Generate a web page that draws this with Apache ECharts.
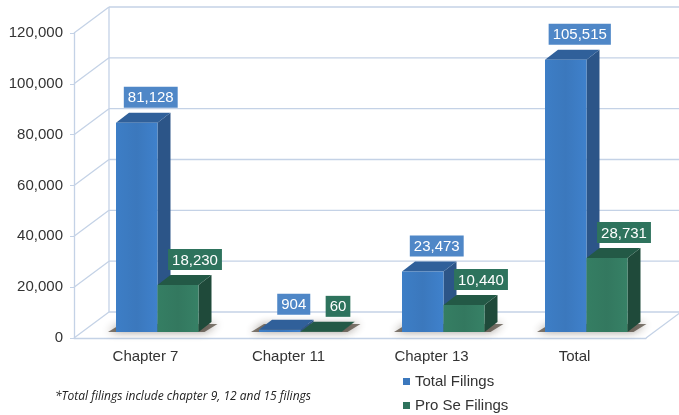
<!DOCTYPE html>
<html>
<head>
<meta charset="utf-8">
<script src="https://cdn.jsdelivr.net/npm/echarts@6/dist/echarts.min.js"></script>
<style>
  html, body { margin: 0; padding: 0; background: #fff; }
  #main { width: 679px; height: 415px; }
</style>
</head>
<body>
<div id="main"></div>
<script>
// chart data
var categories = ['Chapter 7', 'Chapter 11', 'Chapter 13', 'Total'];
var totalFilings = [81128, 904, 23473, 105515];
var proSeFilings = [18230, 60, 10440, 28731];
var yTicks = [0, 20000, 40000, 60000, 80000, 100000, 120000];
var seriesNames = ['Total Filings', 'Pro Se Filings'];

var myChart = echarts.init(document.getElementById('main'));

var lineColor = '#c4d2e6';
var DX = 35, DY = -26;      // depth of the back wall
var BX = 13, BY = -10;      // depth of a bar
var font = '"Liberation Sans", Arial, sans-serif';

function fmt(v) {
    return v.toString().replace(/\B(?=(\d{3})+(?!\d))/g, ',');
}

// colours: front, side, top, label
var looks = [
    {front: '#3b78bd', side: '#2c5588', top: '#30609a', label: '#4f87c7', x0: -29.5, x1: 12, lx: 14},
    {front: '#33785f', side: '#1f4a3a', top: '#235946', label: '#2e735d', x0: 12, x1: 53, lx: 17}
];

function barRender(k) {
    return function (params, api) {
        var lk = looks[k];
        var cat = api.value(0), val = api.value(1);
        var base = api.coord([cat, 0]);
        var top = api.coord([cat, val]);
        var by = base[1] - 6;
        var ty = by - (base[1] - top[1]) * 1.015;
        var xa = base[0] + lk.x0, xb = base[0] + lk.x1;
        var children = [];
        if (k === 0) {
            // shadow on the floor under the pair of bars
            children.push({
                type: 'polygon',
                shape: {points: [[xa - 8, by], [xb + 41 + 6, by], [xb + 41 + BX + 6, by + BY + 2], [xa + BX - 8, by + BY + 2]]},
                style: {fill: 'rgba(50,38,25,0.6)', shadowBlur: 8, shadowColor: 'rgba(50,38,25,0.8)'},
                silent: true
            });
        }
        children.push({
            type: 'polygon',
            shape: {points: [[xb, by], [xb + BX, by + BY], [xb + BX, ty + BY], [xb, ty]]},
            style: {fill: lk.side}
        });
        children.push({
            type: 'polygon',
            shape: {points: [[xa, ty], [xb, ty], [xb + BX, ty + BY], [xa + BX, ty + BY]]},
            style: {fill: lk.top}
        });
        children.push({
            type: 'rect',
            shape: {x: xa, y: ty, width: xb - xa, height: by - ty},
            style: {
                fill: new echarts.graphic.LinearGradient(0, 0, 1, 0, [
                    {offset: 0, color: echarts.color.lift(lk.front, -0.05)},
                    {offset: 0.5, color: lk.front},
                    {offset: 1, color: echarts.color.lift(lk.front, -0.08)}
                ])
            }
        });
        children.push({
            type: 'text',
            style: {
                text: fmt(val),
                x: (xa + xb) / 2 + lk.lx,
                y: ty + BY - 5,
                align: 'center',
                verticalAlign: 'bottom',
                fill: '#fff',
                font: '15px ' + font,
                backgroundColor: lk.label,
                padding: [4, 4, 2, 4]
            },
            z2: 10
        });
        return {type: 'group', children: children};
    };
}

function wallRender(params, api) {
    var v = api.value(1);
    var p = api.coord([0, v]);
    var cs = params.coordSys;
    var left = cs.x, right = cs.x + cs.width;
    var y = p[1];
    var st = {stroke: lineColor, lineWidth: 1.3};
    var children = [
        {type: 'line', shape: {x1: left, y1: y, x2: left + DX, y2: y + DY}, style: st},
        {type: 'line', shape: {x1: left + DX, y1: y + DY, x2: right + DX, y2: y + DY}, style: st}
    ];
    if (v === 0) {
        children.push({type: 'line', shape: {x1: right, y1: y, x2: right + DX, y2: y + DY}, style: st});
        var yt = api.coord([0, yTicks[yTicks.length - 1]])[1];
        children.push({type: 'line', shape: {x1: left + DX, y1: y + DY, x2: left + DX, y2: yt + DY}, style: st});
    }
    return {type: 'group', children: children, silent: true};
}

var legendBase = {
    left: 398,
    icon: 'rect',
    itemWidth: 7,
    itemHeight: 7,
    textStyle: {fontSize: 15, color: '#333', fontFamily: font}
};

var option = {
    animation: false,
    grid: {left: 74, right: 33, top: 33, bottom: 77},
    legend: [
        echarts.util.extend({data: [seriesNames[0]], top: 369}, legendBase),
        echarts.util.extend({data: [seriesNames[1]], top: 393}, legendBase)
    ],
    graphic: [{
        type: 'text',
        left: 55,
        top: 391,
        style: {
            text: '*Total filings include chapter 9, 12 and 15 filings',
            font: 'italic 12px "Open Sans", sans-serif',
            fill: '#222'
        }
    }],
    xAxis: {
        type: 'category',
        data: categories,
        axisLine: {lineStyle: {color: lineColor, width: 1.3}},
        axisTick: {length: 5, lineStyle: {color: lineColor}},
        axisLabel: {fontSize: 15, color: '#333', margin: 11, fontFamily: font},
        splitLine: {show: false}
    },
    yAxis: {
        type: 'value',
        min: 0,
        max: 120000,
        interval: 20000,
        axisLine: {show: true, lineStyle: {color: lineColor, width: 1.3}},
        axisTick: {show: true, length: 4, lineStyle: {color: lineColor}},
        axisLabel: {fontSize: 15, color: '#333', margin: 11, formatter: fmt, fontFamily: font},
        splitLine: {show: false}
    },
    series: [
        {
            name: 'wall',
            type: 'custom',
            renderItem: wallRender,
            data: yTicks.map(function (v) { return [0, v]; }),
            z: 1
        },
        {
            name: seriesNames[0],
            type: 'custom',
            renderItem: barRender(0),
            itemStyle: {color: '#3b78bd'},
            data: totalFilings.map(function (v, i) { return [i, v]; }),
            z: 3
        },
        {
            name: seriesNames[1],
            type: 'custom',
            renderItem: barRender(1),
            itemStyle: {color: '#2e735d'},
            data: proSeFilings.map(function (v, i) { return [i, v]; }),
            z: 4
        }
    ]
};

myChart.setOption(option);
window.onresize = function () { myChart.resize(); };
</script>
</body>
</html>
